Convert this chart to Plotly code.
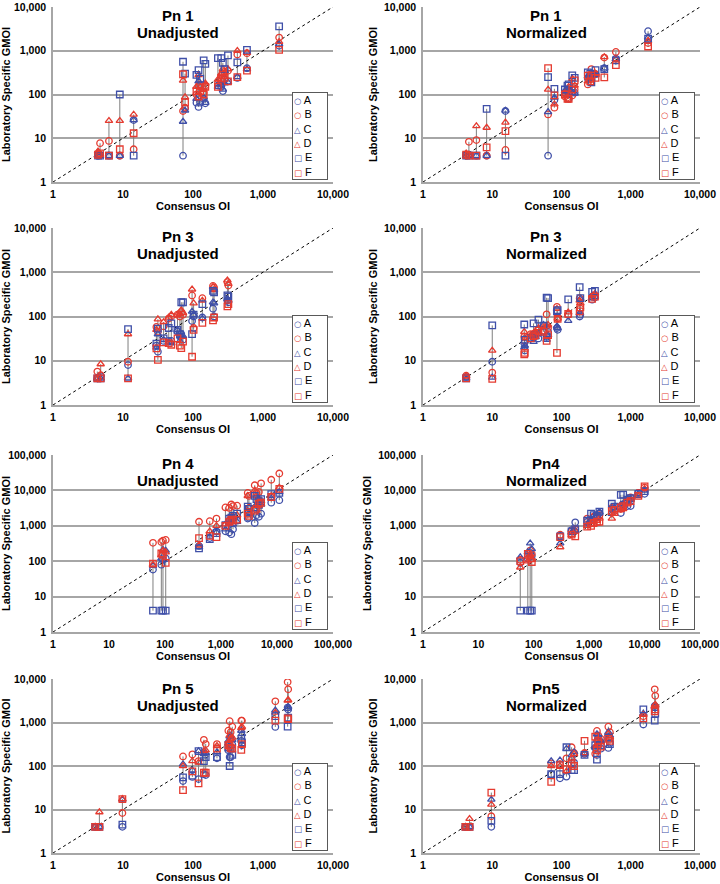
import plotly.graph_objects as go

# ---------------- data ----------------
LABS = ["A", "B", "C", "D", "E", "F"]

TICKS_4 = [1, 10, 100, 1000, 10000]
TICKS_4_TEXT = ["1", "10", "100", "1,000", "10,000"]
TICKS_5 = [1, 10, 100, 1000, 10000, 100000]
TICKS_5_TEXT = ["1", "10", "100", "1,000", "10,000", "100,000"]

# Pn 1 Unadjusted
pn1u_x = [4.4, 4.7, 6.3, 9, 14.2, 72, 77, 112, 120, 127, 142, 150, 227, 253, 267, 282, 316, 430, 590, 1700]
pn1u_A = [4, 4.2, 4, 4, 26, 4, 48, 65, 52, 65, 80, 63, 160, 150, 120, 220, 200, 240, 400, 1300]
pn1u_B = [4.5, 7.7, 8.7, 4, 5.6, 42, 50, 100, 155, 170, 110, 160, 180, 200, 300, 330, 350, 820, 880, 2000]
pn1u_C = [4, 4, 4, 4, 26, 24, 43, 80, 200, 150, 85, 65, 150, 170, 130, 180, 190, 250, 380, 1400]
pn1u_D = [5, 4.3, 25, 25, 35, 210, 87, 150, 280, 150, 140, 180, 220, 300, 380, 250, 380, 1000, 900, 1600]
pn1u_E = [4, 4, 4, 100, 4, 560, 300, 280, 360, 230, 600, 500, 680, 680, 530, 380, 780, 540, 1050, 3600]
pn1u_F = [4.2, 4.5, 4, 5.6, 13, 290, 66, 120, 90, 120, 100, 150, 150, 230, 280, 240, 200, 250, 350, 1050]

# Pn 1 Normalized
pn1n_x = [4.2, 4.6, 5.9, 8.3, 15.5, 64, 79, 112, 122, 127, 143, 155, 240, 260, 270, 310, 415, 610, 1780]
pn1n_A = [4, 4.2, 4, 4, 42, 4, 75, 110, 120, 80, 130, 110, 230, 280, 260, 290, 400, 660, 2800]
pn1n_B = [4.3, 8.3, 9.1, 4, 5.4, 35, 50, 90, 85, 100, 95, 130, 170, 240, 380, 290, 700, 940, 1500]
pn1n_C = [4, 4, 4, 4, 43, 40, 85, 120, 95, 130, 110, 105, 260, 260, 230, 280, 400, 640, 2000]
pn1n_D = [4.5, 4.2, 19, 17.5, 23, 130, 60, 100, 130, 150, 230, 160, 200, 210, 300, 300, 720, 650, 1700]
pn1n_E = [4, 4, 4, 47, 4, 250, 135, 130, 160, 170, 275, 240, 320, 300, 190, 360, 380, 600, 1900]
pn1n_F = [4.2, 4, 4, 6.2, 14.5, 400, 95, 100, 80, 80, 130, 210, 270, 200, 270, 240, 245, 470, 1250]

# Pn 3 Unadjusted
pn3u_x = [4.3, 4.8, 11.8, 30, 31.5, 38, 45, 49, 60, 65, 68, 72, 97, 102, 136, 193, 200, 310, 320]
pn3u_A = [4, 4.5, 8, 22, 16, 28, 28, 28, 45, 35, 40, 30, 79, 100, 95, 150, 100, 230, 210]
pn3u_B = [5.7, 4.7, 9.5, 58, 45, 60, 90, 100, 110, 100, 125, 110, 300, 55, 260, 490, 450, 600, 500]
pn3u_C = [4, 4, 4, 20, 40, 30, 26, 25, 50, 28, 35, 36, 130, 110, 90, 210, 200, 250, 230]
pn3u_D = [4, 8.4, 40, 50, 87, 75, 95, 110, 110, 115, 140, 120, 410, 200, 230, 470, 400, 660, 550]
pn3u_E = [4, 4, 52, 24.5, 53, 32, 55, 70, 50, 40, 210, 210, 40, 110, 190, 380, 350, 300, 280]
pn3u_F = [4, 4, 4, 19, 10.5, 26, 25, 23, 32, 22, 19.3, 27, 12.3, 50, 72, 82, 95, 170, 190]

# Pn 3 Normalized
pn3n_x = [4.2, 10, 29, 29.5, 36, 39.5, 42, 46.5, 55, 61, 64, 86, 88, 125, 183, 187, 277, 304]
pn3n_A = [4.3, 9.5, 25, 17, 32, 35, 40, 32, 47, 35, 45, 55, 50, 110, 100, 110, 240, 270]
pn3n_B = [4.6, 5.4, 35, 28, 40, 40, 42, 50, 48, 112, 55, 165, 90, 110, 260, 150, 280, 300]
pn3n_C = [4, 4.2, 20, 22, 30, 27, 34, 40, 65, 30, 38, 60, 55, 80, 120, 250, 260, 280]
pn3n_D = [4.5, 17, 45, 33, 38, 42, 45, 55, 58, 60, 65, 150, 90, 125, 230, 200, 300, 330]
pn3n_E = [4, 63, 66, 30, 33, 70, 38, 85, 62, 265, 260, 130, 140, 245, 460, 260, 360, 380]
pn3n_F = [4, 3.9, 14, 15, 32, 36, 38, 48, 45, 28, 38, 15, 88, 115, 130, 160, 250, 280]

# Pn 4 Unadjusted
pn4u_x = [61, 86, 92, 103, 405, 630, 830, 1200, 1400, 1530, 1640, 1940, 3000, 3150, 4000, 4300, 4750, 5200, 7900, 11000]
pn4u_A = [58, 80, 110, 120, 270, 450, 700, 700, 650, 580, 800, 1400, 1600, 1700, 1200, 2000, 1800, 2200, 4500, 5300]
pn4u_B = [330, 350, 380, 400, 1300, 1350, 1600, 3300, 3200, 4000, 3600, 3700, 8500, 7000, 14000, 8500, 9000, 15800, 20000, 30000]
pn4u_C = [75, 120, 210, 200, 250, 500, 650, 800, 1200, 1400, 1100, 1300, 2600, 2200, 3000, 4000, 3500, 4000, 6000, 9000]
pn4u_D = [80, 150, 200, 180, 280, 700, 1000, 1100, 1500, 1800, 1800, 2000, 7000, 3400, 10000, 7000, 4600, 5000, 7000, 12000]
pn4u_E = [4, 4, 4, 4, 230, 420, 620, 1050, 1600, 1700, 1900, 2200, 3500, 3000, 7000, 5700, 5000, 5700, 7800, 8500]
pn4u_F = [85, 165, 150, 90, 450, 520, 480, 1000, 1300, 1500, 1400, 1500, 2200, 1900, 2700, 3000, 4200, 4500, 6500, 11000]

# Pn4 Normalized
pn4n_x = [57, 78, 86, 92, 300, 480, 560, 920, 1080, 1200, 1380, 1530, 2560, 2850, 3720, 4100, 4900, 5600, 7700, 10000]
pn4n_A = [90, 120, 170, 140, 520, 750, 1250, 1300, 1500, 1700, 1800, 2300, 3000, 3500, 2300, 4000, 3600, 3600, 8500, 8000]
pn4n_B = [110, 140, 200, 160, 560, 700, 800, 1600, 1400, 1800, 1700, 2000, 3200, 3000, 3000, 3700, 5000, 6300, 8500, 12000]
pn4n_C = [130, 180, 320, 220, 320, 650, 750, 1100, 1500, 1600, 1800, 2400, 2200, 3300, 4000, 4200, 5800, 6000, 8000, 10000]
pn4n_D = [67, 100, 150, 110, 250, 550, 700, 1000, 1100, 1300, 1400, 1600, 1600, 2200, 2800, 3000, 4300, 5500, 7000, 11000]
pn4n_E = [4, 4, 4, 4, 500, 700, 800, 1400, 2200, 2000, 1900, 2500, 4200, 3500, 7500, 7600, 5500, 6000, 8000, 9500]
pn4n_F = [100, 160, 120, 95, 480, 560, 500, 950, 1000, 1200, 1300, 1300, 2600, 2800, 3300, 3600, 4500, 5000, 7000, 13000]

# Pn 5 Unadjusted
pn5u_x = [4, 4.6, 9.8, 72, 98, 120, 143, 152, 220, 320, 334, 345, 364, 490, 500, 1500, 2250, 2290]
pn5u_A = [4, 4, 4, 45, 56, 50, 65, 62, 150, 230, 160, 160, 310, 380, 300, 790, 2200, 2000]
pn5u_B = [4, 4, 8.3, 166, 185, 130, 400, 320, 320, 650, 1070, 600, 800, 1100, 1100, 3070, 8500, 5800]
pn5u_C = [4, 4, 17, 110, 80, 220, 190, 200, 210, 380, 480, 500, 400, 650, 550, 1900, 2100, 2300]
pn5u_D = [4, 8.7, 17.5, 100, 130, 120, 220, 230, 290, 330, 500, 420, 450, 750, 800, 1700, 3200, 3300]
pn5u_E = [4, 4, 4.5, 55, 60, 220, 130, 160, 160, 270, 100, 250, 180, 420, 350, 1400, 800, 1300]
pn5u_F = [4, 4, 17.3, 28, 75, 40, 70, 70, 250, 300, 300, 260, 250, 235, 320, 1100, 1250, 1200]

# Pn5 Normalized
pn5n_x = [4.1, 4.7, 9.7, 71, 95, 118, 140, 152, 215, 307, 325, 340, 370, 475, 500, 1520, 2220, 2260]
pn5n_A = [4, 4, 4, 65, 52, 57, 140, 120, 190, 260, 180, 300, 250, 260, 340, 900, 2400, 2200]
pn5n_B = [4, 4, 7, 115, 110, 150, 270, 200, 200, 190, 640, 500, 420, 800, 600, 1400, 5800, 4100]
pn5n_C = [4, 4, 17, 130, 135, 250, 180, 210, 190, 270, 540, 450, 380, 600, 500, 1600, 2300, 2500]
pn5n_D = [4, 6.1, 13, 100, 100, 75, 150, 190, 200, 280, 400, 300, 350, 550, 450, 1500, 2400, 2600]
pn5n_E = [4, 4, 5.5, 65, 65, 270, 80, 80, 180, 300, 140, 420, 300, 450, 320, 2000, 1100, 1600]
pn5n_F = [4, 4, 24.5, 43, 105, 85, 110, 100, 380, 470, 230, 380, 280, 420, 380, 1250, 1800, 2000]

TITLES_TOP = ["Pn 1", "Pn 1", "Pn 3", "Pn 3", "Pn 4", "Pn4", "Pn 5", "Pn5"]
TITLES_BOTTOM = ["Unadjusted", "Normalized"] * 4

X_TITLE = "Consensus OI"
Y_TITLE = "Laboratory Specific GMOI"

# ---------------- styling / layout ----------------
BLUE = "#3F4FA8"
RED = "#E53B30"
LAB_COLOR = {"A": BLUE, "B": RED, "C": BLUE, "D": RED, "E": BLUE, "F": RED}
LAB_SYMBOL = {"A": "circle-open", "B": "circle-open", "C": "triangle-up-open",
              "D": "triangle-up-open", "E": "square-open", "F": "square-open"}
LAB_GLYPH = {"A": "\u25CB", "B": "\u25CB", "C": "\u25B3", "D": "\u25B3", "E": "\u25A1", "F": "\u25A1"}
GRID = "#A6A6A6"
FONT = "Liberation Sans, Arial, sans-serif"

W, H = 720, 884
COL_X = [(53, 333), (423, 700)]
ROW_Y = [(7, 182), (228, 405), (455, 632), (679, 853)]

panels = [
    (pn1u_x, [pn1u_A, pn1u_B, pn1u_C, pn1u_D, pn1u_E, pn1u_F], 4),
    (pn1n_x, [pn1n_A, pn1n_B, pn1n_C, pn1n_D, pn1n_E, pn1n_F], 4),
    (pn3u_x, [pn3u_A, pn3u_B, pn3u_C, pn3u_D, pn3u_E, pn3u_F], 4),
    (pn3n_x, [pn3n_A, pn3n_B, pn3n_C, pn3n_D, pn3n_E, pn3n_F], 4),
    (pn4u_x, [pn4u_A, pn4u_B, pn4u_C, pn4u_D, pn4u_E, pn4u_F], 5),
    (pn4n_x, [pn4n_A, pn4n_B, pn4n_C, pn4n_D, pn4n_E, pn4n_F], 5),
    (pn5u_x, [pn5u_A, pn5u_B, pn5u_C, pn5u_D, pn5u_E, pn5u_F], 4),
    (pn5n_x, [pn5n_A, pn5n_B, pn5n_C, pn5n_D, pn5n_E, pn5n_F], 4),
]

# compact key text (symbol + lab letter), one line per lab
key_lines = []
for lab in LABS:
    key_lines.append(
        "<span style='font-family:DejaVu Sans;font-size:8.5px;color:%s'>%s</span> %s"
        % (LAB_COLOR[lab], LAB_GLYPH[lab], lab))
KEY_TEXT = "<br>".join(key_lines)

fig = go.Figure()
layout = dict(
    width=W, height=H,
    margin=dict(l=0, r=0, t=0, b=0),
    paper_bgcolor="white", plot_bgcolor="white",
    font=dict(family=FONT, color="black"),
    showlegend=False,
    annotations=[],
)

for i, (xs, series, dec) in enumerate(panels):
    k = i + 1
    sfx = "" if k == 1 else str(k)
    xref, yref = "x" + sfx, "y" + sfx
    row, col = divmod(i, 2)
    x0, x1 = COL_X[col]
    y0, y1 = ROW_Y[row]
    xdom = [x0 / W, x1 / W]
    ydom = [1 - y1 / H, 1 - y0 / H]
    tv = TICKS_5 if dec == 5 else TICKS_4
    tt = TICKS_5_TEXT if dec == 5 else TICKS_4_TEXT

    # vertical range lines connecting lab results at each consensus value
    lx, ly = [], []
    for j, xv in enumerate(xs):
        vals = [s[j] for s in series]
        lx += [xv, xv, None]
        ly += [min(vals), max(vals), None]
    fig.add_trace(go.Scatter(x=lx, y=ly, mode="lines", xaxis=xref, yaxis=yref,
                             line=dict(color="#7F7F7F", width=1),
                             showlegend=False, hoverinfo="skip"))
    # line of identity
    fig.add_trace(go.Scatter(x=[tv[0], tv[-1]], y=[tv[0], tv[-1]], mode="lines",
                             xaxis=xref, yaxis=yref,
                             line=dict(color="black", width=1, dash="3px,3px"),
                             showlegend=False, hoverinfo="skip"))
    for lab, s in zip(LABS, series):
        fig.add_trace(go.Scatter(
            x=xs, y=s, mode="markers", name=lab, xaxis=xref, yaxis=yref,
            marker=dict(symbol=LAB_SYMBOL[lab], size=6.5, color=LAB_COLOR[lab],
                        line=dict(width=1.3, color=LAB_COLOR[lab])),
        ))

    layout["xaxis" + sfx] = dict(
        type="log", range=[0, dec], domain=xdom, anchor=yref,
        showgrid=False, zeroline=False, showline=True, linecolor=GRID, linewidth=1.5,
        ticks="", tickvals=tv, ticktext=tt, ticklabelstandoff=2,
        tickfont=dict(size=10.5, weight="bold", family=FONT),
        title=dict(text=X_TITLE, font=dict(size=11, weight="bold", family=FONT), standoff=0),
        automargin=False, fixedrange=True,
    )
    layout["yaxis" + sfx] = dict(
        type="log", range=[0, dec], domain=ydom, anchor=xref,
        showgrid=True, gridcolor=GRID, gridwidth=1.5, zeroline=False,
        showline=True, linecolor=GRID, linewidth=1.5,
        ticks="", tickvals=tv, ticktext=tt, ticklabelstandoff=3,
        ticklabeloverflow="allow",
        tickfont=dict(size=10.5, weight="bold", family=FONT),
        title=dict(text=Y_TITLE, font=dict(size=11, weight="bold", family=FONT), standoff=4),
        automargin=False, fixedrange=True,
    )
    ph = y1 - y0
    pw = x1 - x0
    layout["annotations"] += [
        dict(text=TITLES_TOP[i], xref=xref + " domain", yref=yref + " domain",
             x=0.445, y=1 - 9 / ph, showarrow=False, xanchor="center", yanchor="middle",
             font=dict(size=15, weight="bold", family=FONT)),
        dict(text=TITLES_BOTTOM[i], xref=xref + " domain", yref=yref + " domain",
             x=0.445, y=1 - 26 / ph, showarrow=False, xanchor="center", yanchor="middle",
             font=dict(size=15, weight="bold", family=FONT)),
        # key box listing labs A-F
        dict(text=KEY_TEXT, xref=xref + " domain", yref=yref + " domain",
             x=1 - 5 / pw, y=2 / ph, xanchor="right", yanchor="bottom",
             showarrow=False, align="left", width=32,
             bgcolor="white", bordercolor="#595959", borderwidth=1, borderpad=1,
             font=dict(size=11, family=FONT, color="black")),
    ]

fig.update_layout(**layout)
fig.write_html("out.html",
               config={"displayModeBar": False},
               post_script="document.body.style.margin='0px';document.body.style.overflow='hidden';")
